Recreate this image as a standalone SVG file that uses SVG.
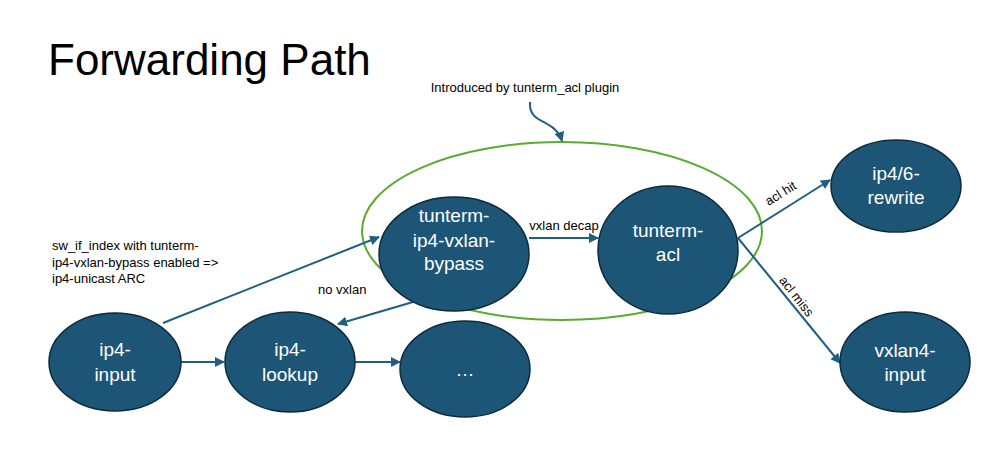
<svg xmlns="http://www.w3.org/2000/svg" width="987" height="456" viewBox="0 0 987 456">
<style>
.node ellipse{fill:#1d5577;stroke:#0d2a3c;stroke-width:1.5}
.node text{fill:#fff;font-family:"Liberation Sans",Arial,sans-serif;font-size:19px;text-anchor:middle}
.edge{stroke:#1e5f84;stroke-width:2;fill:none;marker-end:url(#ah)}
.lbl{fill:#000;font-family:"Liberation Sans",Arial,sans-serif;font-size:13px}
</style>
<defs>
<marker id="ah" viewBox="0 0 10 10" refX="9" refY="5" markerWidth="5" markerHeight="5" orient="auto" markerUnits="strokeWidth">
<path d="M0,0 L10,5 L0,10 z" fill="#1e5f84"/>
</marker>
</defs>
<rect width="987" height="456" fill="#fff"/>
<text x="48" y="75" font-family="'Liberation Sans',Arial,sans-serif" font-size="44" fill="#000">Forwarding Path</text>
<ellipse id="plugin-group" cx="562" cy="231" rx="200" ry="89" fill="none" stroke="#5aab2e" stroke-width="2"/>
<text class="lbl" x="525" y="92" text-anchor="middle">Introduced by tunterm_acl plugin</text>
<g id="connectors">
<path class="edge" d="M530,102 C528,125 555,118 562,141"/>
<path class="edge" d="M163,323 L379,237"/>
<path class="edge" d="M413,302 L338,324"/>
<path class="edge" d="M180,362 L224,362"/>
<path class="edge" d="M355,362 L400,362"/>
<path class="edge" d="M529,238 L598,238"/>
<path class="edge" d="M738,238 L830,180"/>
<path class="edge" d="M738,238 L840,363"/>
<text class="lbl" x="52" y="250">sw_if_index with tunterm-</text>
<text class="lbl" x="52" y="267">ip4-vxlan-bypass enabled =&gt;</text>
<text class="lbl" x="52" y="283">ip4-unicast ARC</text>
<text class="lbl" x="318" y="294">no vxlan</text>
<text class="lbl" x="564" y="230" text-anchor="middle">vxlan decap</text>
<text class="lbl" transform="translate(783,197) rotate(-32)" text-anchor="middle">acl hit</text>
<text class="lbl" transform="translate(793,299) rotate(52)" text-anchor="middle">acl miss</text>
</g>
<g id="ip4-input" class="node"><ellipse cx="115" cy="362" rx="66" ry="49"/><text x="115" y="356">ip4-</text><text x="115" y="381">input</text></g>
<g id="ip4-lookup" class="node"><ellipse cx="290" cy="362" rx="65" ry="50"/><text x="290" y="356">ip4-</text><text x="290" y="381">lookup</text></g>
<g id="dots" class="node"><ellipse cx="465" cy="369" rx="65" ry="48"/><text x="465" y="376">…</text></g>
<g id="tunterm-ip4-vxlan-bypass" class="node"><ellipse cx="454" cy="254" rx="75" ry="57"/><text x="454" y="222">tunterm-</text><text x="454" y="247">ip4-vxlan-</text><text x="454" y="270">bypass</text></g>
<g id="tunterm-acl" class="node"><ellipse cx="668" cy="250" rx="70" ry="64"/><text x="668" y="237">tunterm-</text><text x="668" y="261">acl</text></g>
<g id="ip4-6-rewrite" class="node"><ellipse cx="896" cy="186" rx="65" ry="46"/><text x="896" y="180">ip4/6-</text><text x="896" y="204">rewrite</text></g>
<g id="vxlan4-input" class="node"><ellipse cx="905" cy="362" rx="65" ry="50"/><text x="905" y="357">vxlan4-</text><text x="905" y="381">input</text></g>
</svg>
